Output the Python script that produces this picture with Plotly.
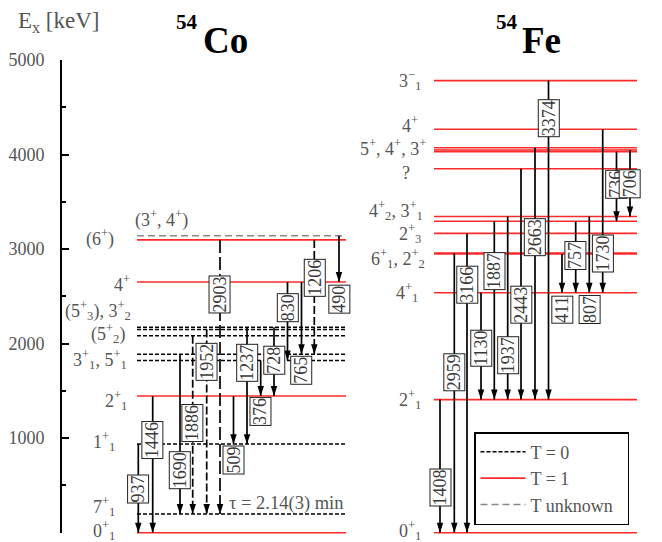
import plotly.graph_objects as go

# ---------------- data: 54Co ----------------
co_level_E = [0, 197, 937, 1446, 1822, 1887, 2083, 2150, 2174, 2652, 3097, 3142]
co_level_T = ["1", "0", "0", "1", "0", "0", "0", "0", "0", "1", "1", "u"]

co_label_text = ["0<sup>+</sup><sub>1</sub>", "7<sup>+</sup><sub>1</sub>", "1<sup>+</sup><sub>1</sub>",
                 "2<sup>+</sup><sub>1</sub>", "3<sup>+</sup><sub>1</sub>, 5<sup>+</sup><sub>1</sub>",
                 "(5<sup>+</sup><sub>2</sub>)", "(5<sup>+</sup><sub>3</sub>), 3<sup>+</sup><sub>2</sub>",
                 "4<sup>+</sup>", "(6<sup>+</sup>)", "(3<sup>+</sup>, 4<sup>+</sup>)"]

co_gamma = [937, 1446, 1690, 1886, 1952, 2903, 509, 1237, 376, 728, 830, 765, 1206, 490]
co_from = [937, 1446, 1887, 2083, 2150, 3097, 1446, 2174, 1822, 2174, 2652, 2652, 3097, 3142]
co_to = [0, 0, 197, 197, 197, 197, 937, 937, 1446, 1446, 1822, 1887, 1887, 2652]
co_style = ["s", "s", "s", "d", "d", "l", "s", "s", "s", "s", "s", "s", "d", "s"]

# ---------------- data: 54Fe ----------------
fe_level_E = [0, 1408, 2538, 2949, 2959, 3166, 3295, 3345, 3850, 4031, 4048, 4072, 4268, 4782]
fe_level_T = ["1"] * len(fe_level_E)

fe_label_text = ["0<sup>+</sup><sub>1</sub>", "2<sup>+</sup><sub>1</sub>", "4<sup>+</sup><sub>1</sub>",
                 "6<sup>+</sup><sub>1</sub>, 2<sup>+</sup><sub>2</sub>", "2<sup>+</sup><sub>3</sub>",
                 "4<sup>+</sup><sub>2</sub>, 3<sup>+</sup><sub>1</sub>", "?",
                 "5<sup>+</sup>, 4<sup>+</sup>, 3<sup>+</sup>", "4<sup>+</sup>", "3<sup>−</sup><sub>1</sub>"]

fe_gamma = [1408, 2959, 3166, 1130, 1887, 1937, 2443, 2663, 3374, 411, 757, 807, 1730, 736, 706]
fe_from = [1408, 2959, 3166, 2538, 3295, 3345, 3850, 4072, 4782, 2949, 3295, 3345, 4268, 4031, 4048]
fe_to = [0, 0, 0, 1408, 1408, 1408, 1408, 1408, 1408, 2538, 2538, 2538, 2538, 3295, 3345]
fe_style = ["s"] * len(fe_gamma)

tick_vals = [0, 1000, 2000, 3000, 4000, 5000]
legend_names = {"0": "T = 0", "1": "T = 1", "u": "T unknown\u00a0\u00a0"}
tau_text = "τ = 2.14(3) min"

# ---------------- layout (positions in page pixels / keV) ----------------
W, H = 662, 542
Y_TOP_PX, Y_ZERO_PX = 60.0, 532.7
KEV_PX = (Y_ZERO_PX - Y_TOP_PX) / 5000.0
y_lo = -(H - Y_ZERO_PX) / KEV_PX
y_hi = Y_ZERO_PX / KEV_PX

co_span = (137, 346)
fe_span = (434, 637)

co_x = [138.3, 152.7, 180, 192.7, 206.7, 220, 233.5, 247, 260.7, 274, 287.5, 301.5, 314.3, 339]
co_box = [460, 977, 661, 1157, 1804, 2520, 769, 1797, 1285, 1819, 2380, 1718, 2699, 2465]
fe_x = [440, 454.3, 467, 481, 494.3, 507.7, 521, 535, 548.5, 562, 575.7, 589.3, 602.7, 616.5, 630]
fe_box = [478, 1700, 2623, 1946, 2770, 1874, 2412, 3126, 4379, 2359, 2934, 2359, 2950, 3685, 3685]

co_label_px = [(117, 530, "right"), (117, 506, "right"), (117, 441, "right"), (129, 400, "right"),
               (129, 359, "right"), (127, 333, "right"), (133, 310, "right"), (132, 283, "right"),
               (116, 238, "right"), (133, 219, "left")]
fe_label_px = [(423, 530, "right"), (423, 399, "right"), (420, 292, "right"), (427, 258, "right"),
               (423, 234, "right"), (425, 211, "right"), (412, 173, "right"), (428, 147, "right"),
               (420, 125, "right"), (423, 80, "right")]

GRAY = "#555555"
FONT = "Liberation Serif, DejaVu Serif, Noto Serif, serif"
level_style = {"0": dict(color="black", width=1.5, dash="4px,2px"),
               "1": dict(color="#ff2a2a", width=1.6),
               "u": dict(color="#888888", width=1.5, dash="7px,4px")}
trans_dash = {"s": "solid", "d": "8px,3px", "l": "13px,4px"}


def py(px):
    return 1 - px / H


fig = go.Figure()

# level lines grouped by isospin
for t in ["0", "1", "u"]:
    xs, ys = [], []
    for E, T in zip(co_level_E, co_level_T):
        if T == t:
            xs += [co_span[0], co_span[1], None]
            ys += [E, E, None]
    for E, T in zip(fe_level_E, fe_level_T):
        if T == t:
            xs += [fe_span[0], fe_span[1], None]
            ys += [E, E, None]
    fig.add_trace(go.Scatter(x=xs, y=ys, mode="lines", line=level_style[t], name=legend_names[t],
                             hoverinfo="skip"))

# transitions (lines)
all_x = co_x + fe_x
all_from = co_from + fe_from
all_to = co_to + fe_to
all_style = co_style + fe_style
for style in ["s", "d", "l"]:
    xs, ys = [], []
    for xg, f, t, s in zip(all_x, all_from, all_to, all_style):
        if s == style:
            xs += [xg, xg, None]
            ys += [f, t, None]
    fig.add_trace(go.Scatter(x=xs, y=ys, mode="lines", showlegend=False, hoverinfo="skip",
                             line=dict(color="black", width=1.7, dash=trans_dash[style])))

# arrow heads (tip at the final level)
fig.add_trace(go.Scatter(x=all_x, y=all_to, mode="markers", showlegend=False, hoverinfo="skip",
                         marker=dict(symbol="arrow", angle=180, size=10.5, color="black",
                                     line=dict(width=0))))

annots = []
for xg, yb, g in list(zip(co_x, co_box, co_gamma)) + list(zip(fe_x, fe_box, fe_gamma)):
    annots.append(dict(x=xg, y=yb, xref="x", yref="y", text=str(g), textangle=-90, showarrow=False,
                       font=dict(family=FONT, size=18, color="#3a3a3a"), bgcolor="white",
                       bordercolor="#222222", borderwidth=1, borderpad=0))

for (lx, ly, anc), txt in list(zip(co_label_px, co_label_text)) + list(zip(fe_label_px, fe_label_text)):
    annots.append(dict(x=lx, y=py(ly), xref="x", yref="paper", text=txt, showarrow=False,
                       xanchor=anc, yanchor="middle", font=dict(family=FONT, size=18, color=GRAY)))

annots.append(dict(x=227, y=py(503), xref="x", yref="paper", text=tau_text, showarrow=False,
                   xanchor="left", yanchor="middle", font=dict(family=FONT, size=18.5, color=GRAY)))

# titles
for num, el, x0, x1 in [("54", "Co", 200, 201), ("54", "Fe", 520, 520)]:
    annots.append(dict(x=x0, y=py(22), xref="x", yref="paper", text="<b>" + num + "</b>", showarrow=False,
                       xanchor="right", yanchor="middle", font=dict(family=FONT, size=21, color="black")))
    annots.append(dict(x=x1, y=py(40), xref="x", yref="paper", text="<b>" + el + "</b>", showarrow=False,
                       xanchor="left", yanchor="middle", font=dict(family=FONT, size=37, color="black")))

annots.append(dict(x=16, y=py(22), xref="x", yref="paper", text="E<sub>x</sub> [keV]", showarrow=False,
                   xanchor="left", yanchor="middle", font=dict(family=FONT, size=23, color=GRAY)))

# invisible trace to carry the energy axis
fig.add_trace(go.Scatter(x=[0], y=[0], xaxis="x", yaxis="y2", mode="markers", opacity=0,
                         showlegend=False, hoverinfo="skip"))

fig.update_layout(
    width=W, height=H, autosize=False,
    margin=dict(l=0, r=0, t=0, b=0, pad=0, autoexpand=False),
    paper_bgcolor="white", plot_bgcolor="rgba(0,0,0,0)",
    xaxis=dict(range=[0, W], domain=[0, 1], visible=False, fixedrange=True),
    yaxis=dict(range=[y_lo, y_hi], domain=[0, 1], visible=False, fixedrange=True),
    yaxis2=dict(range=[0, 5000], domain=[(H - Y_ZERO_PX) / H, (H - Y_TOP_PX) / H],
                anchor="free", position=61 / W, side="left", automargin=False,
                showline=True, linecolor="black", linewidth=2, showgrid=False, zeroline=False,
                ticks="inside", ticklen=7, tickwidth=2, tickcolor="black",
                tickvals=tick_vals, ticklabelstandoff=12,
                minor=dict(dtick=500, ticks="inside", ticklen=4, tickwidth=2, tickcolor="black", showgrid=False),
                tickfont=dict(family=FONT, size=18, color=GRAY), fixedrange=True),
    showlegend=True,
    legend=dict(x=474 / W, y=py(432), xanchor="left", yanchor="top", itemwidth=45,
                bgcolor="white", bordercolor="black", borderwidth=1.5,
                font=dict(family=FONT, size=18, color=GRAY)),
    annotations=annots,
)

fig.write_html("out.html", config={"displayModeBar": False},
               post_script="document.body.style.margin='0';document.body.style.overflow='hidden';")
